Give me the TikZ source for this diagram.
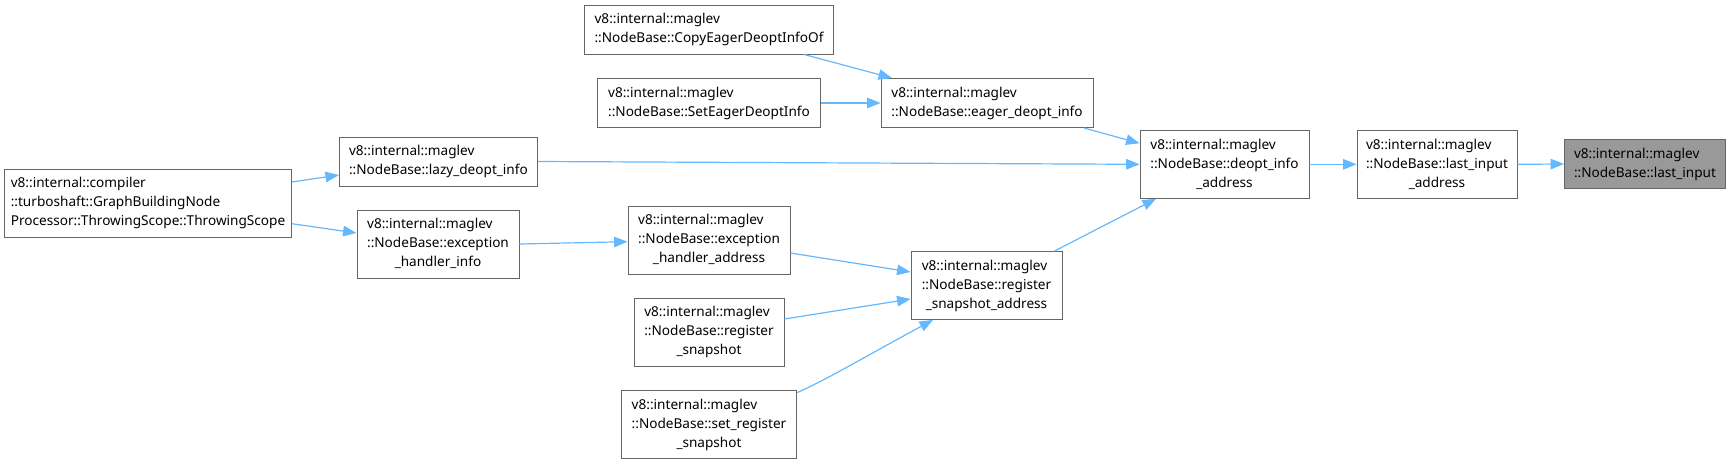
\documentclass[tikz,border=0pt]{standalone}
\usepackage{fontspec}
\setmainfont{Noto Sans}
\usetikzlibrary{arrows.meta}
\definecolor{edgeblue}{HTML}{63B8FF}
\definecolor{boxline}{HTML}{666666}
\definecolor{hilite}{HTML}{999999}
\newcommand\lastc[1]{\multicolumn{1}{@{}c@{}}{#1}}
\newcommand\lbl[1]{\begin{tabular}{@{}l@{}}#1\end{tabular}}
\tikzset{
  fnbox/.style={draw=boxline, line width=0.9pt, fill=white, inner sep=0pt,
    minimum width=#1, font=\fontsize{13.6}{19}\selectfont},
  two/.style={minimum height=49pt},
  three/.style={minimum height=68pt},
  rootbox/.style={fill=hilite},
  call/.style={draw=edgeblue, line width=1.2pt, -{Triangle[length=13.5pt,width=10.5pt]}}
}
\begin{document}
\begin{tikzpicture}[x=1pt,y=-1pt]
\useasboundingbox (0,0) rectangle (1731,464);
\node[fnbox=249pt,two] (copy) at (709,29.5) {\lbl{v8::internal::maglev\\::NodeBase::CopyEagerDeoptInfoOf}};
\node[fnbox=223pt,two] (seteager) at (709,103) {\lbl{v8::internal::maglev\\::NodeBase::SetEagerDeoptInfo}};
\node[fnbox=212pt,two] (eager) at (987,103) {\lbl{v8::internal::maglev\\::NodeBase::eager\_deopt\_info}};
\node[fnbox=198pt,two] (lazy) at (438.4,161.5) {\lbl{v8::internal::maglev\\::NodeBase::lazy\_deopt\_info}};
\node[fnbox=287pt,three] (thr) at (148,203) {\lbl{v8::internal::compiler\\::turboshaft::GraphBuildingNode\\Processor::ThrowingScope::ThrowingScope}};
\node[fnbox=162pt,three] (excinfo) at (438,244) {\lbl{v8::internal::maglev\\::NodeBase::exception\\\lastc{\_handler\_info}}};
\node[fnbox=169pt,three] (deopt) at (1224.5,164.3) {\lbl{v8::internal::maglev\\::NodeBase::deopt\_info\\\lastc{\_address}}};
\node[fnbox=160pt,three] (lia) at (1437,164.3) {\lbl{v8::internal::maglev\\::NodeBase::last\_input\\\lastc{\_address}}};
\node[fnbox=161pt,two,rootbox] (li) at (1645,164) {\lbl{v8::internal::maglev\\::NodeBase::last\_input}};
\node[fnbox=162pt,three] (excaddr) at (709,240) {\lbl{v8::internal::maglev\\::NodeBase::exception\\\lastc{\_handler\_address}}};
\node[fnbox=151pt,three] (rsa) at (986.5,285.5) {\lbl{v8::internal::maglev\\::NodeBase::register\\\lastc{\_snapshot\_address}}};
\node[fnbox=150pt,three] (rs) at (709,332) {\lbl{v8::internal::maglev\\::NodeBase::register\\\lastc{\_snapshot}}};
\node[fnbox=175.6pt,three] (srs) at (709,424.5) {\lbl{v8::internal::maglev\\::NodeBase::set\_register\\\lastc{\_snapshot}}};

\draw[call] ([yshift=21pt]thr.east) -- ([yshift=-13.5pt]lazy.west);
\draw[call] ([yshift=-20.7pt]thr.east) -- ([yshift=11pt]excinfo.west);
\draw[call] (lazy.east) -- (deopt.west);
\draw[call] (excinfo.east) -- ([yshift=-1.7pt]excaddr.west);
\draw[call] ([xshift=95pt]copy.south) -- ([xshift=-95pt]eager.north);
\draw[call] (seteager.east) -- (eager.west);
\draw[call] ([xshift=97pt]eager.south) -- ([yshift=21pt]deopt.west);
\draw[call] ([yshift=-13pt]excaddr.east) -- ([yshift=13.5pt]rsa.west);
\draw[call] ([yshift=13pt]rs.east) -- ([yshift=-13.5pt]rsa.west);
\draw[call] ([yshift=-2.5pt]srs.north east) .. controls (826,380) and (868,355) .. ([xshift=-53.5pt]rsa.south);
\draw[call] ([xshift=68pt]rsa.north) -- ([xshift=-68.5pt]deopt.south);
\draw[call] (deopt.east) -- (lia.west);
\draw[call] (lia.east) -- (li.west);
\end{tikzpicture}
\end{document}
